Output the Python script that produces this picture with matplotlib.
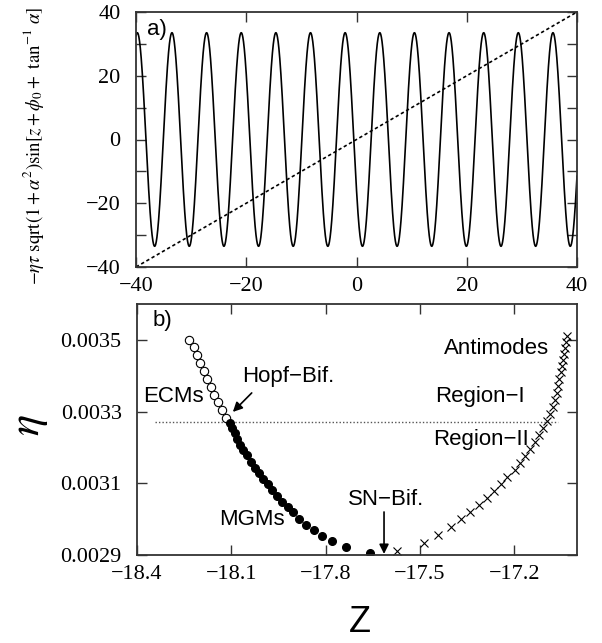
import numpy as np
import matplotlib
matplotlib.use("Agg")
import matplotlib.pyplot as plt
from matplotlib.ticker import MultipleLocator

plt.rcParams["mathtext.fontset"] = "stix"

# panel a) : the right hand side of the mode equation and the line y = z
amplitude = 33.5          # eta*tau*sqrt(1+alpha^2)
phase = 0.49              # phi0 + atan(alpha)
z_range = [-40, 40]
line_z = [-40, 40]
line_y = [-40, 40]

# panel b) : eta versus z for the three families
ecm_z = [-18.234, -18.218, -18.208, -18.199, -18.187, -18.176, -18.166,
         -18.154, -18.142, -18.130, -18.118]
ecm_eta = [0.003500, 0.003479, 0.003457, 0.003435, 0.003413, 0.003392,
           0.003369, 0.003347, 0.003326, 0.003304, 0.003283]

mgm_z = [-18.105, -18.097, -18.089, -18.081, -18.071, -18.062, -18.050,
         -18.037, -18.024, -18.011, -17.998, -17.984, -17.971, -17.956,
         -17.939, -17.921, -17.903, -17.884, -17.861, -17.838, -17.812,
         -17.779, -17.736, -17.659]
mgm_eta = [0.003269, 0.003254, 0.003240, 0.003224, 0.003208, 0.003194,
           0.003178, 0.003160, 0.003144, 0.003129, 0.003113, 0.003097,
           0.003080, 0.003064, 0.003049, 0.003034, 0.003019, 0.003001,
           0.002984, 0.002969, 0.002953, 0.002938, 0.002921, 0.002906]

anti_z = [-17.573, -17.487, -17.442, -17.401, -17.369, -17.340, -17.312,
          -17.286, -17.264, -17.242, -17.223, -17.197, -17.181, -17.165,
          -17.150, -17.134, -17.121, -17.108, -17.095, -17.086, -17.076,
          -17.070, -17.064, -17.060, -17.057, -17.051, -17.048, -17.045,
          -17.041, -17.038, -17.035, -17.032]
anti_eta = [0.002911, 0.002933, 0.002956, 0.002978, 0.003000, 0.003020,
            0.003039, 0.003059, 0.003078, 0.003098, 0.003118, 0.003137,
            0.003157, 0.003176, 0.003196, 0.003215, 0.003235, 0.003254,
            0.003274, 0.003293, 0.003313, 0.003332, 0.003352, 0.003371,
            0.003391, 0.003410, 0.003427, 0.003444, 0.003461, 0.003477,
            0.003494, 0.003511]

eta_hopf = 0.003272
hopf_z_range = [-18.343, -17.061]

serif = "Liberation Serif"
sans = "Liberation Sans"
spine_col = "#333333"


def style_axes(ax):
    for s in ax.spines.values():
        s.set_color(spine_col)
        s.set_linewidth(1.3)
    ax.tick_params(which="both", direction="in", top=True, right=True,
                   color=spine_col, width=1.0, labelsize=16, pad=7)
    ax.tick_params(axis="y", which="both", pad=11)
    ax.tick_params(which="major", length=7)
    ax.tick_params(which="minor", length=7)
    for lab in ax.get_xticklabels() + ax.get_yticklabels():
        lab.set_family(serif)


fig = plt.figure(figsize=(6.02, 6.43), dpi=100)

# ---------------- panel a)
ax1 = fig.add_axes([136 / 602, 1 - 267 / 643, 441 / 602, 255 / 643])
z = np.linspace(z_range[0], z_range[1], 4000)
ax1.plot(z, -amplitude * np.sin(z + phase), color="black", lw=1.2)
ax1.plot(line_z, line_y, color="black", lw=1.2, linestyle=(0, (2, 1.6)))
ax1.set_xlim(-40, 40)
ax1.set_ylim(-40, 40)
ax1.set_xticks([-40, -20, 0, 20, 40])
ax1.set_yticks([-40, -20, 0, 20, 40])
ax1.yaxis.set_minor_locator(MultipleLocator(10))
ax1.set_xticklabels(["\u221240", "\u221220", "0", "20", "40"])
ax1.set_yticklabels(["\u221240", "\u221220", "0", "20", "40"])
style_axes(ax1)
ax1.text(0.048, 0.93, "a)", transform=ax1.transAxes, family=sans,
         fontsize=16, ha="center", va="center")
fig.text(34 / 602, 1 - 146 / 643,
         r"$-\eta\tau\ \mathrm{sqrt}(1+\alpha^2)\mathrm{sin}[z+\phi_0+\ \mathrm{tan}^{-1}\ \alpha]$",
         rotation=90, fontsize=13.5, ha="center", va="center")

# ---------------- panel b)
ax2 = fig.add_axes([137 / 602, 1 - 555 / 643, 440 / 602, 251 / 643])
ax2.plot(hopf_z_range, [eta_hopf, eta_hopf], color="#555555", lw=1.0,
         linestyle=(0, (1, 1.5)))
ax2.plot(ecm_z, ecm_eta, "o", mfc="white", mec="black", mew=0.8, ms=6)
ax2.plot(mgm_z, mgm_eta, "o", color="black", ms=5.5)
ax2.plot(anti_z, anti_eta, "x", color="black", mew=0.8, ms=5.5)
ax2.set_xlim(-18.4, -17.0)
ax2.set_ylim(0.0029, 0.0036)
ax2.set_xticks([-18.4, -18.1, -17.8, -17.5, -17.2])
ax2.set_xticklabels(["\u221218.4", "\u221218.1", "\u221217.8", "\u221217.5", "\u221217.2"])
ax2.set_yticks([0.0029, 0.0031, 0.0033, 0.0035])
ax2.set_yticklabels(["0.0029", "0.0031", "0.0033", "0.0035"])
style_axes(ax2)

ax2.text(0.057, 0.936, "b)", transform=ax2.transAxes, family=sans,
         fontsize=16, ha="center", va="center")
ax2.text(-17.920, 0.003399, "Hopf\u2212Bif.", family=sans, fontsize=16,
         ha="center", va="center")
ax2.annotate("", xy=(-18.095, 0.003299), xytext=(-18.035, 0.003352),
             arrowprops=dict(arrowstyle="-|>", color="black", lw=1.2,
                             mutation_scale=14, shrinkA=0, shrinkB=0))
ax2.text(-18.285, 0.003343, "ECMs", family=sans, fontsize=16,
         ha="center", va="center")
ax2.text(-18.034, 0.003000, "MGMs", family=sans, fontsize=16,
         ha="center", va="center")
ax2.text(-17.255, 0.003477, "Antimodes", family=sans, fontsize=16,
         ha="center", va="center")
ax2.text(-17.309, 0.003343, "Region\u2212I", family=sans, fontsize=16,
         ha="center", va="center")
ax2.text(-17.305, 0.003221, "Region\u2212II", family=sans, fontsize=16,
         ha="center", va="center")
ax2.text(-17.607, 0.003055, "SN\u2212Bif.", family=sans, fontsize=16,
         ha="center", va="center")
ax2.annotate("", xy=(-17.614, 0.002903), xytext=(-17.614, 0.003020),
             arrowprops=dict(arrowstyle="-|>", color="black", lw=1.2,
                             mutation_scale=14, shrinkA=0, shrinkB=0))

fig.text(28 / 602, 1 - 425 / 643, r"$\eta$", rotation=90, fontsize=32,
         ha="center", va="center")
fig.text(360 / 602, 1 - 622 / 643, "Z", family=sans, fontsize=26,
         ha="center", va="center")

fig.savefig("out.png", dpi=100)
